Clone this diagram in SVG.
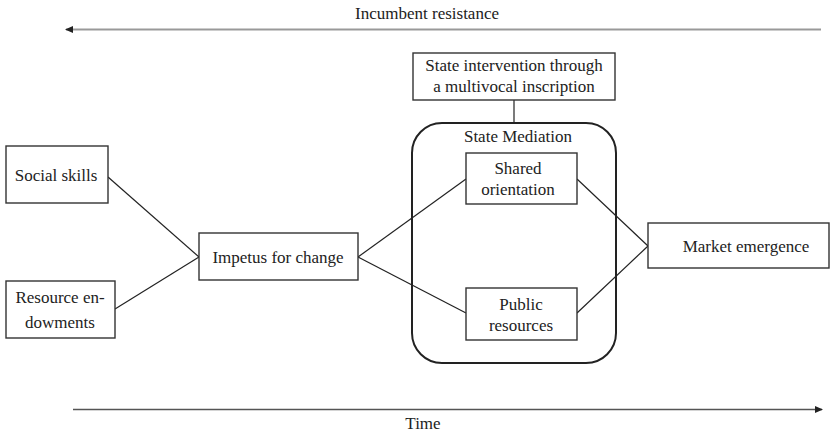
<svg xmlns="http://www.w3.org/2000/svg" width="831" height="436" viewBox="0 0 831 436">
<style>
text{font-family:"Liberation Serif","Times New Roman",serif;font-size:17px;fill:#222;text-anchor:middle}
.box{fill:#fff;stroke:#333;stroke-width:1.4}
.ln{stroke:#222;stroke-width:1.2;fill:none}
</style>
<defs>
<marker id="ahG" markerWidth="8" markerHeight="8" refX="7" refY="4" orient="auto" markerUnits="userSpaceOnUse"><path d="M0,0.5 L8,4 L0,7.5 Z" fill="#222"/></marker>
</defs>
<g id="connectors">
<line class="ln" x1="821" y1="29.5" x2="66" y2="29.5" style="stroke:#999;stroke-width:2" marker-end="url(#ahG)"/>
<line class="ln" x1="73" y1="409.5" x2="822" y2="409.5" style="stroke:#555;stroke-width:1.5" marker-end="url(#ahG)"/>
<line class="ln" x1="514" y1="100" x2="514" y2="123"/>
<line class="ln" x1="108" y1="177" x2="199" y2="257"/>
<line class="ln" x1="115" y1="309" x2="199" y2="257"/>
<line class="ln" x1="358" y1="257" x2="466" y2="179"/>
<line class="ln" x1="358" y1="257" x2="466" y2="313"/>
<line class="ln" x1="577" y1="179" x2="648" y2="246"/>
<line class="ln" x1="577" y1="313" x2="648" y2="246"/>
</g>
<text x="427" y="19">Incumbent resistance</text>
<text x="423" y="429">Time</text>
<g id="state-intervention">
<rect class="box" x="413" y="53" width="202" height="47"/>
<text x="514" y="71">State intervention through</text>
<text x="514" y="92">a multivocal inscription</text>
</g>
<g id="state-mediation">
<rect x="412" y="123" width="204" height="240" rx="30" ry="30" fill="none" stroke="#222" stroke-width="2"/>
<text x="518" y="142">State Mediation</text>
</g>
<g id="social-skills">
<rect class="box" x="6" y="146" width="102" height="57"/>
<text x="56" y="181">Social skills</text>
</g>
<g id="resource-endowments">
<rect class="box" x="6" y="281" width="109" height="57"/>
<text x="60" y="303">Resource en-</text>
<text x="60" y="328">dowments</text>
</g>
<g id="impetus">
<rect class="box" x="199" y="233" width="159" height="47"/>
<text x="278" y="263">Impetus for change</text>
</g>
<g id="shared-orientation">
<rect class="box" x="466" y="153" width="111" height="51"/>
<text x="518" y="174">Shared</text>
<text x="518" y="195">orientation</text>
</g>
<g id="public-resources">
<rect class="box" x="466" y="288" width="111" height="52"/>
<text x="521" y="310">Public</text>
<text x="521" y="331">resources</text>
</g>
<g id="market-emergence">
<rect class="box" x="648" y="223" width="181" height="45"/>
<text x="746" y="252">Market emergence</text>
</g>
</svg>
